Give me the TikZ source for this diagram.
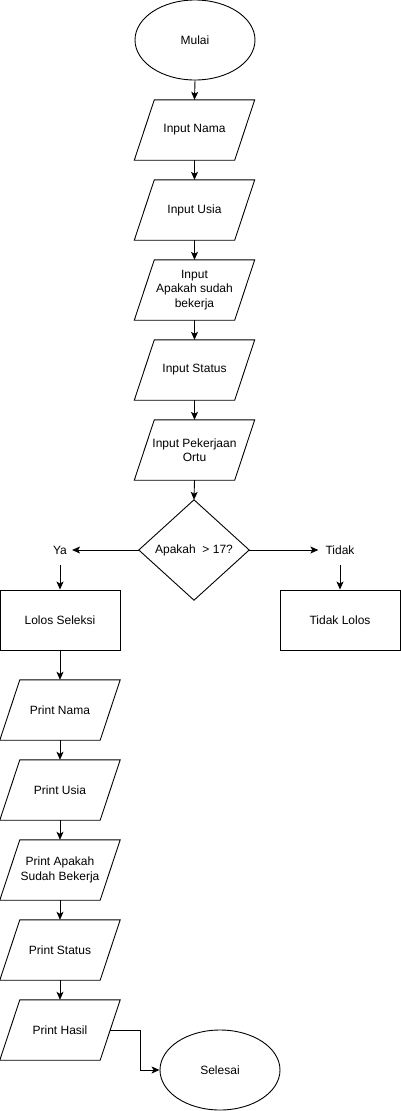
\documentclass[tikz,border=0pt]{standalone}
\usepackage{fontspec}
\setmainfont{Liberation Sans}
\usetikzlibrary{shapes.geometric,arrows.meta,calc}
\tikzset{
  base/.style={font=\fontsize{12}{14.5}\selectfont, align=center, inner sep=0pt},
  term/.style={base, ellipse, draw, line width=0.9pt, minimum width=120pt, minimum height=80pt},
  io/.style={base, rectangle, minimum width=120pt, minimum height=60pt},
  proc/.style={base, rectangle, draw, line width=0.9pt, minimum width=120pt, minimum height=60pt},
  decbox/.style={base, rectangle, minimum width=110pt, minimum height=100pt},
  lbl/.style={base, minimum height=30pt},
  arr/.style={line width=0.9pt, -{Stealth[length=8pt,width=7pt,inset=2pt]}},
  shp/.style={line width=0.9pt}
}
\newcommand{\iopara}[1]{\draw[shp] ([xshift=20pt]#1.north west) -- (#1.north east) -- ([xshift=-20pt]#1.south east) -- (#1.south west) -- cycle;}
\begin{document}
\begin{tikzpicture}[x=1pt,y=-1pt]
\useasboundingbox (0,0) rectangle (401,1111);
\node[term] (mulai) at (195,40) {Mulai};
\node[io] (in1) at (194.5,130) {Input Nama};
\node[io] (in2) at (194.5,210) {Input Usia};
\node[io] (in3) at (194.5,290) {Input\\Apakah sudah\\bekerja};
\node[io] (in4) at (194.5,370) {Input Status};
\node[io] (in5) at (194.5,450) {Input Pekerjaan\\Ortu};
\node[decbox] (dec) at (194,550) {Apakah\ \ > 17?};
\node[lbl, inner xsep=5pt] (ya) at (60,550) {Ya};
\node[lbl, inner xsep=7pt] (tidak) at (340,550) {Tidak};
\node[proc] (lolos) at (60,620) {Lolos Seleksi};
\node[proc] (tlolos) at (340,620) {Tidak Lolos};
\node[io] (p1) at (60,710) {Print Nama};
\node[io] (p2) at (60,790) {Print Usia};
\node[io] (p3) at (60,870) {Print Apakah\\Sudah Bekerja};
\node[io] (p4) at (60,950) {Print Status};
\node[io] (p5) at (60,1030) {Print Hasil};
\node[term] (selesai) at (220,1070) {Selesai};
\foreach \n in {in1,in2,in3,in4,in5,p1,p2,p3,p4,p5} {\iopara{\n}}
\draw[shp] (dec.north) -- (dec.east) -- (dec.south) -- (dec.west) -- cycle;
\draw[arr] (mulai.south) -- (in1.north);
\draw[arr] (in1.south) -- (in2.north);
\draw[arr] (in2.south) -- (in3.north);
\draw[arr] (in3.south) -- (in4.north);
\draw[arr] (in4.south) -- (in5.north);
\draw[arr] (in5.south) -- (dec.north);
\draw[arr] (dec.west) -- (ya.east);
\draw[arr] (dec.east) -- (tidak.west);
\draw[arr] (ya.south) -- (lolos.north);
\draw[arr] (tidak.south) -- (tlolos.north);
\draw[arr] (lolos.south) -- (p1.north);
\draw[arr] (p1.south) -- (p2.north);
\draw[arr] (p2.south) -- (p3.north);
\draw[arr] (p3.south) -- (p4.north);
\draw[arr] (p4.south) -- (p5.north);
\draw[arr] ([xshift=-10pt]p5.east) -- ++(30,0) |- (selesai.west);
\end{tikzpicture}
\end{document}
